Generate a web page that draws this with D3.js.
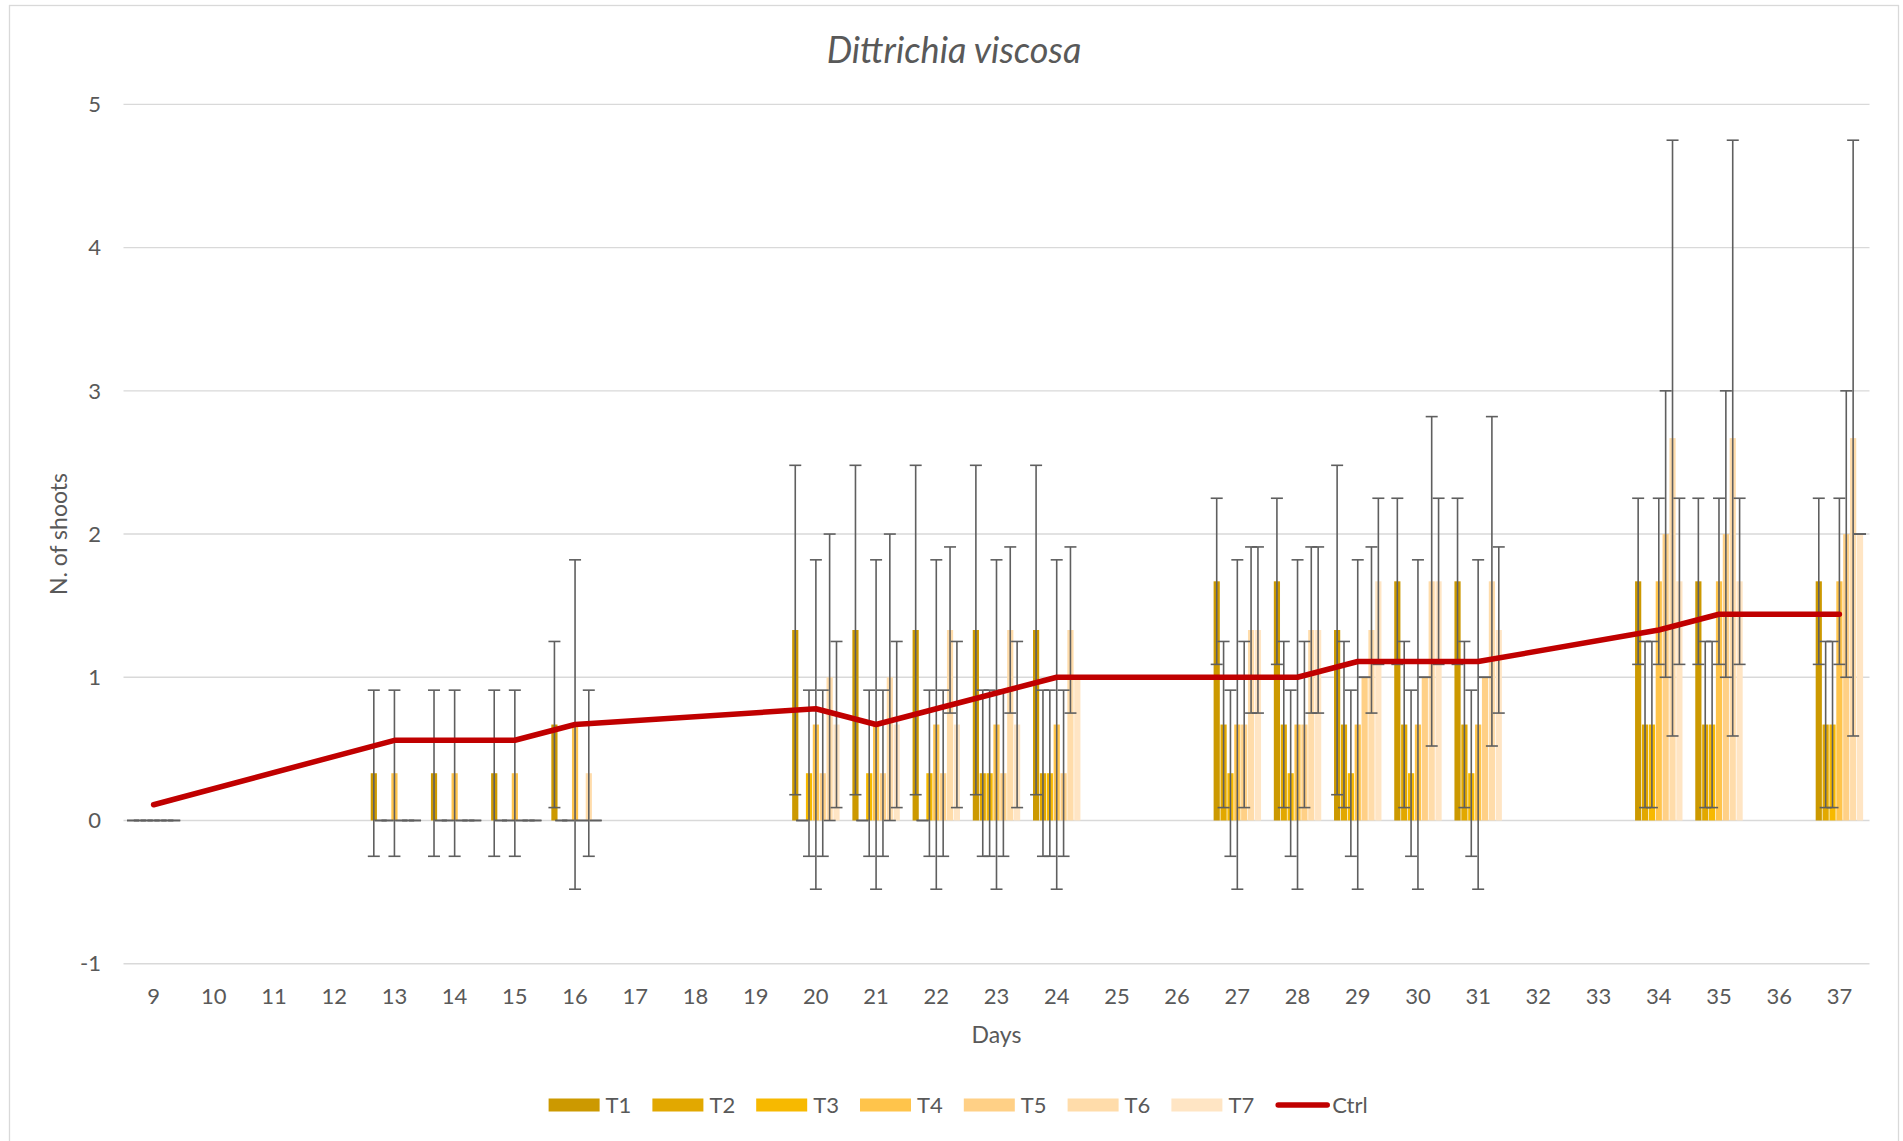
<!DOCTYPE html>
<html lang="en">
<head>
  <meta charset="UTF-8">
  <title>Dittrichia viscosa</title>
  <style>
    html, body {
      margin: 0;
      overflow: hidden;
      width: 100%;
      height: 100%;
      background: #fff;
    }
    svg {
      position: absolute;
      top: 0;
      left: 0;
    }
    text {
      font-family: Lato, 'Open Sans', sans-serif;
      fill: #595959;
    }
  </style>
</head>
<body>
  <svg width="1903" height="1141"></svg>
<script src="https://d3js.org/d3.v7.min.js"></script>
<script type="text/javascript">
  // categories (days); null = no observation that day
  const days = [9, 10, 11, 12, 13, 14, 15, 16, 17, 18, 19, 20, 21, 22, 23, 24, 25, 26, 27, 28, 29, 30, 31, 32, 33, 34, 35, 36, 37]
  const series = ['T1', 'T2', 'T3', 'T4', 'T5', 'T6', 'T7']
  const colors = ['#cc9900', '#e2a800', '#f7b900', '#ffc44b', '#ffd086', '#ffdcaa', '#ffe5c4']

  //            9     10    11    12    13    14    15    16    17    18    19    20    21    22    23    24    25    26    27    28    29    30    31    32    33    34    35    36    37
  const t1  = [0,    null, null, null, 0.33, 0.33, 0.33, 0.67, null, null, null, 1.33, 1.33, 1.33, 1.33, 1.33, null, null, 1.67, 1.67, 1.33, 1.67, 1.67, null, null, 1.67, 1.67, null, 1.67]
  const t2  = [0,    null, null, null, 0,    0,    0,    0,    null, null, null, 0,    0,    0,    0.33, 0.33, null, null, 0.67, 0.67, 0.67, 0.67, 0.67, null, null, 0.67, 0.67, null, 0.67]
  const t3  = [0,    null, null, null, 0,    0,    0,    0,    null, null, null, 0.33, 0.33, 0.33, 0.33, 0.33, null, null, 0.33, 0.33, 0.33, 0.33, 0.33, null, null, 0.67, 0.67, null, 0.67]
  const t4  = [0,    null, null, null, 0.33, 0.33, 0.33, 0.67, null, null, null, 0.67, 0.67, 0.67, 0.67, 0.67, null, null, 0.67, 0.67, 0.67, 0.67, 0.67, null, null, 1.67, 1.67, null, 1.67]
  const t5  = [0,    null, null, null, 0,    0,    0,    0,    null, null, null, 0.33, 0.33, 0.33, 0.33, 0.33, null, null, 0.67, 0.67, 1,    1,    1,    null, null, 2,    2,    null, 2]
  const t6  = [0,    null, null, null, 0,    0,    0,    0.33, null, null, null, 1,    1,    1.33, 1.33, 1.33, null, null, 1.33, 1.33, 1.33, 1.67, 1.67, null, null, 2.67, 2.67, null, 2.67]
  const t7  = [0,    null, null, null, 0,    0,    0,    0,    null, null, null, 0.67, 0.67, 0.67, 0.67, 1,    null, null, 1.33, 1.33, 1.67, 1.67, 1.33, null, null, 1.67, 1.67, null, 2]

  // standard deviations (error bars)
  const e1  = [0,    null, null, null, 0.58, 0.58, 0.58, 0.58, null, null, null, 1.15, 1.15, 1.15, 1.15, 1.15, null, null, 0.58, 0.58, 1.15, 0.58, 0.58, null, null, 0.58, 0.58, null, 0.58]
  const e2  = [0,    null, null, null, 0,    0,    0,    0,    null, null, null, 0,    0,    0,    0.58, 0.58, null, null, 0.58, 0.58, 0.58, 0.58, 0.58, null, null, 0.58, 0.58, null, 0.58]
  const e3  = [0,    null, null, null, 0,    0,    0,    0,    null, null, null, 0.58, 0.58, 0.58, 0.58, 0.58, null, null, 0.58, 0.58, 0.58, 0.58, 0.58, null, null, 0.58, 0.58, null, 0.58]
  const e4  = [0,    null, null, null, 0.58, 0.58, 0.58, 1.15, null, null, null, 1.15, 1.15, 1.15, 1.15, 1.15, null, null, 1.15, 1.15, 1.15, 1.15, 1.15, null, null, 0.58, 0.58, null, 0.58]
  const e5  = [0,    null, null, null, 0,    0,    0,    0,    null, null, null, 0.58, 0.58, 0.58, 0.58, 0.58, null, null, 0.58, 0.58, 0,    0,    0,    null, null, 1,    1,    null, 1]
  const e6  = [0,    null, null, null, 0,    0,    0,    0.58, null, null, null, 1,    1,    0.58, 0.58, 0.58, null, null, 0.58, 0.58, 0.58, 1.15, 1.15, null, null, 2.08, 2.08, null, 2.08]
  const e7  = [0,    null, null, null, 0,    0,    0,    0,    null, null, null, 0.58, 0.58, 0.58, 0.58, 0,    null, null, 0.58, 0.58, 0.58, 0.58, 0.58, null, null, 0.58, 0.58, null, 0]

  const ctrl = [0.11, null, null, null, 0.56, 0.56, 0.56, 0.67, null, null, null, 0.78, 0.67, 0.78, 0.89, 1,    null, null, 1,    1,    1.11, 1.11, 1.11, null, null, 1.33, 1.44, null, 1.44]

  const yTicks = [-1, 0, 1, 2, 3, 4, 5]

  const values = [t1, t2, t3, t4, t5, t6, t7]
  const errors = [e1, e2, e3, e4, e5, e6, e7]

  const svg = d3.select('svg')

  const x = d3.scaleBand()
    .domain(days)
    .range([123.5, 1869.5])

  const xIn = d3.scaleBand()
    .domain(series)
    .range([0, x.bandwidth()])
    .paddingInner(0.1)
    .paddingOuter(0.93)

  const y = d3.scaleLinear()
    .domain([-1, 5])
    .range([963.7, 104.4])

  const color = d3.scaleOrdinal().domain(series).range(colors)

  // chart border
  svg.append('rect')
    .attr('x', 9.5)
    .attr('y', 5.5)
    .attr('width', 1889)
    .attr('height', 1160)
    .attr('fill', 'none')
    .attr('stroke', '#d9d9d9')
    .attr('stroke-width', 1.3)

  // title
  svg.append('text')
    .attr('x', 954)
    .attr('y', 63)
    .attr('text-anchor', 'middle')
    .style('font-size', '36px')
    .style('font-style', 'italic')
    .text('Dittrichia viscosa')

  // gridlines
  svg.append('g')
    .selectAll('line')
    .data(yTicks)
    .enter().append('line')
      .attr('x1', x.range()[0])
      .attr('x2', x.range()[1])
      .attr('y1', d => y(d))
      .attr('y2', d => y(d))
      .attr('stroke', '#d9d9d9')
      .attr('stroke-width', 1.4)

  // y axis labels
  svg.append('g')
    .selectAll('text')
    .data(yTicks)
    .enter().append('text')
      .attr('x', 101)
      .attr('y', d => y(d))
      .attr('dy', '0.35em')
      .attr('text-anchor', 'end')
      .style('font-size', '22px')
      .text(d => d)

  // x axis labels
  svg.append('g')
    .selectAll('text')
    .data(days)
    .enter().append('text')
      .attr('x', d => x(d) + x.bandwidth() / 2)
      .attr('y', 996)
      .attr('dy', '0.35em')
      .attr('text-anchor', 'middle')
      .style('font-size', '22px')
      .text(d => d)

  // axis titles
  svg.append('text')
    .attr('x', (x.range()[0] + x.range()[1]) / 2)
    .attr('y', 1035)
    .attr('dy', '0.35em')
    .attr('text-anchor', 'middle')
    .style('font-size', '23px')
    .text('Days')

  svg.append('text')
    .attr('transform', `translate(59,${(y(5) + y(-1)) / 2}) rotate(-90)`)
    .attr('dy', '0.35em')
    .attr('text-anchor', 'middle')
    .style('font-size', '23px')
    .text('N. of shoots')

  // flatten bar data
  const bars = []
  series.forEach((s, si) => {
    days.forEach((d, di) => {
      const v = values[si][di]
      if (v === null) return
      bars.push({ s: s, day: d, v: v, e: errors[si][di] })
    })
  })

  // bars
  svg.append('g')
    .selectAll('rect')
    .data(bars)
    .enter().append('rect')
      .attr('x', d => x(d.day) + xIn(d.s))
      .attr('y', d => y(Math.max(d.v, 0)))
      .attr('width', xIn.bandwidth())
      .attr('height', d => Math.abs(y(d.v) - y(0)))
      .attr('fill', d => color(d.s))

  // error bars
  const cx = d => x(d.day) + xIn(d.s) + xIn.bandwidth() / 2
  const eg = svg.append('g')
    .attr('stroke', '#5f5f5f')
    .attr('stroke-width', 1.6)
    .selectAll('g')
    .data(bars)
    .enter().append('g')

  eg.append('line')
    .attr('x1', cx)
    .attr('x2', cx)
    .attr('y1', d => y(d.v + d.e))
    .attr('y2', d => y(d.v - d.e))

  eg.append('line')
    .attr('x1', d => cx(d) - 6)
    .attr('x2', d => cx(d) + 6)
    .attr('y1', d => y(d.v + d.e))
    .attr('y2', d => y(d.v + d.e))

  eg.append('line')
    .attr('x1', d => cx(d) - 6)
    .attr('x2', d => cx(d) + 6)
    .attr('y1', d => y(d.v - d.e))
    .attr('y2', d => y(d.v - d.e))

  // control line, gaps bridged
  const ctrlPts = days
    .map((d, i) => ({ day: d, v: ctrl[i] }))
    .filter(d => d.v !== null)

  svg.append('path')
    .datum(ctrlPts)
    .attr('d', d3.line()
      .x(d => x(d.day) + x.bandwidth() / 2)
      .y(d => y(d.v)))
    .attr('fill', 'none')
    .attr('stroke', '#c00000')
    .attr('stroke-width', 5.5)
    .attr('stroke-linecap', 'round')
    .attr('stroke-linejoin', 'round')

  // legend
  const legend = svg.append('g')
  const legY = 1105
  const legX0 = 548.6
  const legStep = 103.8

  series.forEach((s, i) => {
    const lx = legX0 + i * legStep
    legend.append('rect')
      .attr('x', lx)
      .attr('y', legY - 6.5)
      .attr('width', 51)
      .attr('height', 13)
      .attr('fill', color(s))
    legend.append('text')
      .attr('x', lx + 57)
      .attr('y', legY)
      .attr('dy', '0.35em')
      .style('font-size', '22px')
      .text(s)
  })

  const cl = legX0 + series.length * legStep
  legend.append('line')
    .attr('x1', cl + 3)
    .attr('x2', cl + 52)
    .attr('y1', legY)
    .attr('y2', legY)
    .attr('stroke', '#c00000')
    .attr('stroke-width', 5.5)
    .attr('stroke-linecap', 'round')
  legend.append('text')
    .attr('x', cl + 57)
    .attr('y', legY)
    .attr('dy', '0.35em')
    .style('font-size', '22px')
    .text('Ctrl')
</script>
</body>
</html>
